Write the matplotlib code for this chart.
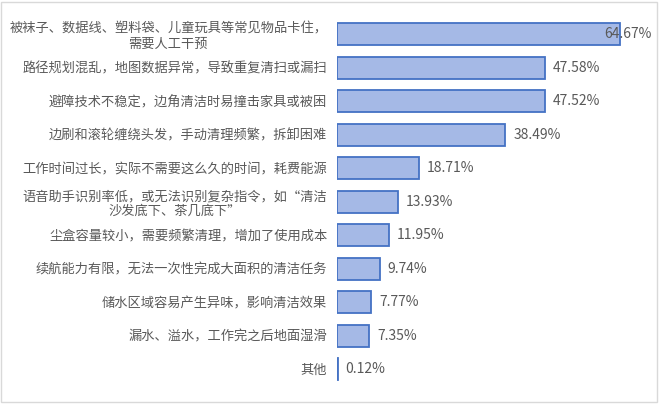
import matplotlib
matplotlib.use("Agg")
import matplotlib.pyplot as plt
from matplotlib.patches import Rectangle

plt.rcParams['font.family'] = ['Noto Sans CJK SC', 'DejaVu Sans']

# Categories from top to bottom and their share (%)
categories = [
    "被袜子、数据线、塑料袋、儿童玩具等常见物品卡住，\n需要人工干预",
    "路径规划混乱，地图数据异常，导致重复清扫或漏扫",
    "避障技术不稳定，边角清洁时易撞击家具或被困",
    "边刷和滚轮缠绕头发，手动清理频繁，拆卸困难",
    "工作时间过长，实际不需要这么久的时间，耗费能源",
    "语音助手识别率低，或无法识别复杂指令，如“清洁\n沙发底下、茶几底下”",
    "尘盒容量较小，需要频繁清理，增加了使用成本",
    "续航能力有限，无法一次性完成大面积的清洁任务",
    "储水区域容易产生异味，影响清洁效果",
    "漏水、溢水，工作完之后地面湿滑",
    "其他",
]
values = [64.67, 47.58, 47.52, 38.49, 18.71, 13.93, 11.95, 9.74, 7.77, 7.35, 0.12]

text_color = "#595959"
fill_color = "#A5B9E6"
edge_color = "#4472C4"
xmax = 72.0

fig = plt.figure(figsize=(6.6, 4.04), dpi=100)
ax = fig.add_axes([0.5106, 0.045, 0.988 - 0.5106, 0.912])

pos = list(range(len(values)))
ax.barh(pos, values, height=0.66, color=fill_color, edgecolor=edge_color, linewidth=1.3)
ax.set_ylim(len(values) - 0.5, -0.5)
ax.set_xlim(0, xmax)

ax.set_yticks(pos)
ax.set_yticklabels(categories, fontsize=9.5, color=text_color, multialignment="center")
ax.tick_params(axis="y", length=0, pad=7)
ax.set_xticks([])
for s in ax.spines.values():
    s.set_visible(False)

# value labels; the longest one does not fit outside, so it is pulled back inside
for p, v in zip(pos, values):
    if v + 12 > xmax:
        ax.text(xmax, p, f"{v:.2f}%", ha="right", va="center", fontsize=10, color=text_color)
    else:
        ax.text(v + 1.8, p, f"{v:.2f}%", ha="left", va="center", fontsize=10, color=text_color)

# light frame round the whole chart
fig.patches.append(Rectangle((0.002, 0.004), 0.994, 0.99, transform=fig.transFigure,
                             fill=False, edgecolor="#D9D9D9", linewidth=1))

fig.savefig("out.png", dpi=100)
